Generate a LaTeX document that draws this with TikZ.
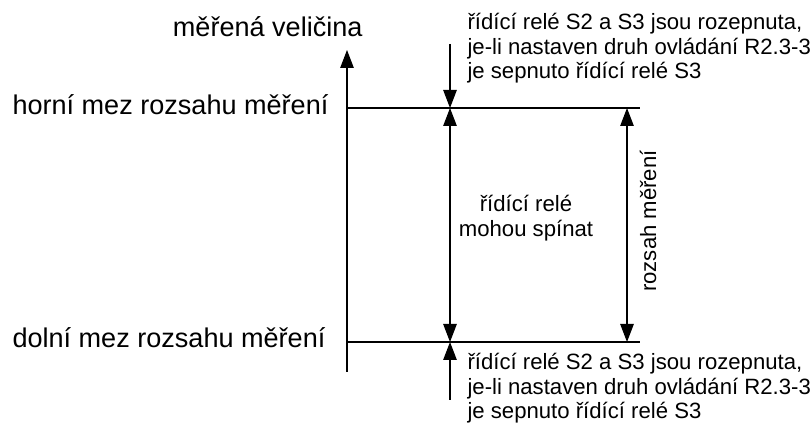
\documentclass[tikz,border=0pt]{standalone}
\usepackage{fontspec}
\setmainfont{Liberation Sans}
\usepackage{tikz}
\usetikzlibrary{arrows.meta}
\usetikzlibrary{positioning}

\tikzset{
  tip/.style={-{Triangle[length=3.6mm,width=2.7mm]}},
  twotip/.style={{Triangle[length=3.6mm,width=2.7mm]}-{Triangle[length=3.6mm,width=2.7mm]}},
  biglabel/.style={inner sep=0pt,font=\fontsize{15.4}{18}\selectfont},
  smalllabel/.style={inner sep=0pt,font=\fontsize{12.6}{13.9}\selectfont},
}

\begin{document}
\begin{tikzpicture}[line width=0.6pt]
\useasboundingbox (0,0) rectangle (16.2,8.52);

% axis and limits
\coordinate (axisbot) at (6.94,1.08);
\coordinate (axistop) at (6.94,7.52);
\coordinate (hi) at (6.94,6.36);
\coordinate (hiend) at (12.8,6.36);
\coordinate (lo) at (6.94,1.68);
\coordinate (loend) at (12.8,1.68);
\coordinate (hiin) at (9,6.36);
\coordinate (loin) at (9,1.68);
\coordinate (topin) at (9,7.64);
\coordinate (botin) at (9,0.52);
\coordinate (hiright) at (12.54,6.36);
\coordinate (loright) at (12.54,1.68);

\draw[tip] (axisbot) -- (axistop);
\draw (hi) -- (hiend);
\draw (lo) -- (loend);

\draw[tip] (topin) -- (hiin);
\draw[twotip] (hiin) -- (loin);
\draw[tip] (botin) -- (loin);
\draw[twotip] (hiright) -- (loright);

% labels
\node[biglabel,anchor=base east] (quantity) at (7.26,7.78) {měřená veličina};
\node[biglabel,anchor=base west] (upper) at (0.24,6.22) {horní mez rozsahu měření};
\node[biglabel,anchor=base west] (lower) at (0.24,1.56) {dolní mez rozsahu měření};

\node[smalllabel,anchor=north west,align=left] (notetop) at (9.34,8.26)
  {řídící relé S2 a S3 jsou rozepnuta,\\je-li nastaven druh ovládání R2.3-3\\je sepnuto řídící relé S3};
\node[smalllabel,anchor=north west,align=left] (notebot) at (9.34,1.46)
  {řídící relé S2 a S3 jsou rozepnuta,\\je-li nastaven druh ovládání R2.3-3\\je sepnuto řídící relé S3};

\node[smalllabel,align=center] (relay) at (10.52,4.16) {řídící relé\\mohou spínat};
\node[smalllabel,rotate=90] (range) at (12.96,4.10) {rozsah měření};

\end{tikzpicture}
\end{document}
